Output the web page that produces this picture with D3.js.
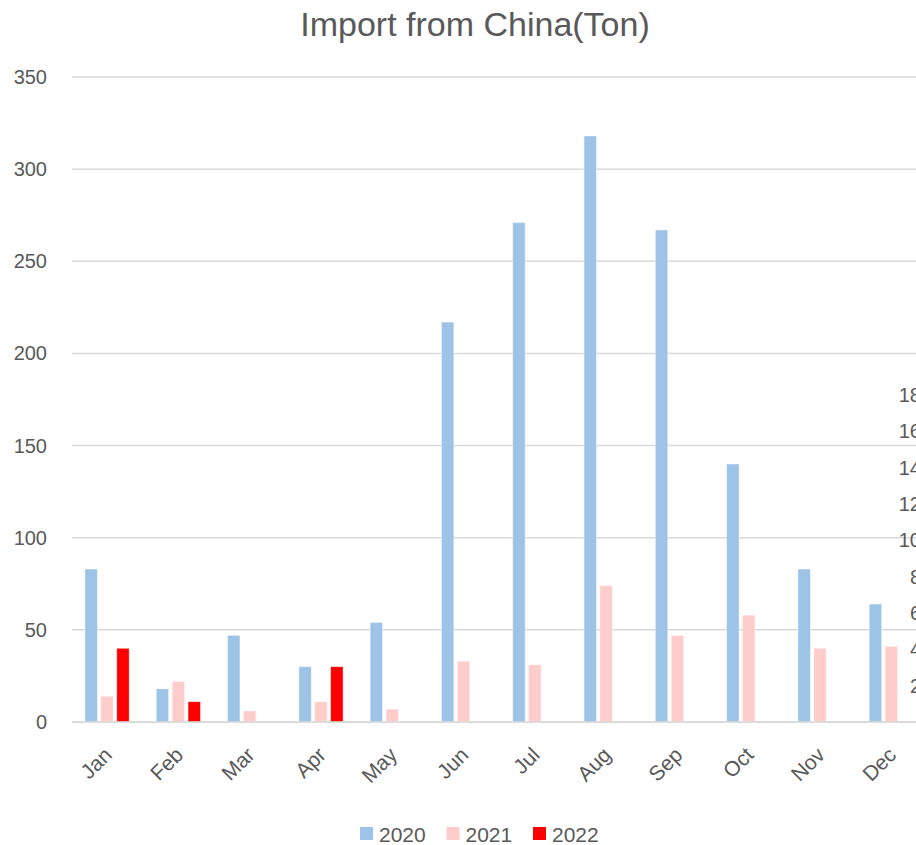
<!DOCTYPE html>
<html>
<head>
<meta charset="utf-8">
<title>Import from China(Ton)</title>
<script src="https://d3js.org/d3.v7.min.js"></script>
<style>
  html, body { margin: 0; padding: 0; background: #fff; overflow: hidden; }
  text { font-family: "Liberation Sans", Arial, sans-serif; fill: #595959; }
  .grid line { stroke: #d9d9d9; stroke-width: 1.5px; }
</style>
</head>
<body>
<script>
// data
var months = ["Jan", "Feb", "Mar", "Apr", "May", "Jun", "Jul", "Aug", "Sep", "Oct", "Nov", "Dec"];
var years = ["2020", "2021", "2022"];
var v2020 = [83, 18, 47, 30, 54, 217, 271, 318, 267, 140, 83, 64];
var v2021 = [14, 22, 6, 11, 7, 33, 31, 74, 47, 58, 40, 41];
var v2022 = [40, 11, null, 30, null, null, null, null, null, null, null, null];
var yTicks = [0, 50, 100, 150, 200, 250, 300, 350];
// partly hidden secondary axis at the right edge
var y2Ticks = [2, 4, 6, 8, 10, 12, 14, 16, 18];
var colors = ["#9dc3e6", "#ffcccc", "#ff0000"];

var W = 916, H = 845;
var series = [v2020, v2021, v2022];

var svg = d3.select("body").append("svg").attr("width", W).attr("height", H);

var x = d3.scaleBand().domain(months).range([71.4, 927]).paddingInner(0.38).paddingOuter(0.19);
var xs = d3.scaleBand().domain(years).range([0, x.bandwidth()]).paddingInner(0.22);
var y = d3.scaleLinear().domain([0, 350]).range([722, 77]);
var y2 = d3.scaleLinear().domain([0, 18]).range([722, 395]);

// title
svg.append("text")
    .attr("x", 475).attr("y", 36)
    .attr("text-anchor", "middle")
    .style("font-size", "34px")
    .text("Import from China(Ton)");

// gridlines
svg.append("g").attr("class", "grid")
    .selectAll("line").data(yTicks).enter()
    .append("line")
    .attr("x1", 72).attr("x2", W)
    .attr("y1", function(d) { return y(d); })
    .attr("y2", function(d) { return y(d); });

// y axis labels
svg.append("g").selectAll("text").data(yTicks).enter()
    .append("text")
    .attr("x", 47)
    .attr("y", function(d) { return y(d); })
    .attr("dy", "0.35em")
    .attr("text-anchor", "end")
    .style("font-size", "20px")
    .text(function(d) { return d; });

// bars
var groups = svg.append("g").selectAll("g").data(series).enter()
    .append("g")
    .attr("fill", function(d, i) { return colors[i]; });

groups.selectAll("rect")
    .data(function(d, i) {
        return d.map(function(v, j) { return {m: months[j], yr: years[i], v: v}; })
            .filter(function(o) { return o.v !== null; });
    })
    .enter().append("rect")
    .attr("x", function(d) { return x(d.m) + xs(d.yr); })
    .attr("width", xs.bandwidth())
    .attr("y", function(d) { return y(d.v); })
    .attr("height", function(d) { return y(0) - y(d.v); })
    .attr("stroke", "#ffffff")
    .attr("stroke-opacity", 0.5)
    .attr("stroke-width", 0.8);

// baseline
svg.append("line")
    .attr("x1", 72).attr("x2", W)
    .attr("y1", y(0)).attr("y2", y(0))
    .style("stroke", "#d9d9d9").style("stroke-width", 1.5);

// x labels, rotated
svg.append("g").selectAll("text").data(months).enter()
    .append("text")
    .attr("transform", function(d) {
        return "translate(" + (x(d) + x.bandwidth() / 2 + 1) + ",751) rotate(-45)";
    })
    .attr("dy", "0.35em")
    .attr("text-anchor", "end")
    .style("font-size", "21px")
    .text(function(d) { return d; });

// secondary axis labels (cut by the edge)
svg.append("g").selectAll("text").data(y2Ticks).enter()
    .append("text")
    .attr("x", 921)
    .attr("y", function(d) { return y2(d); })
    .attr("dy", "0.35em")
    .attr("text-anchor", "end")
    .style("font-size", "20px")
    .text(function(d) { return d; });

// legend
var legend = svg.append("g").selectAll("g").data(years).enter()
    .append("g")
    .attr("transform", function(d, i) { return "translate(" + (360 + i * 86.5) + ",827)"; });
legend.append("rect")
    .attr("width", 13).attr("height", 13)
    .attr("fill", function(d, i) { return colors[i]; });
legend.append("text")
    .attr("x", 19).attr("y", 7)
    .attr("dy", "0.36em")
    .style("font-size", "21px")
    .text(function(d) { return d; });
</script>
</body>
</html>
